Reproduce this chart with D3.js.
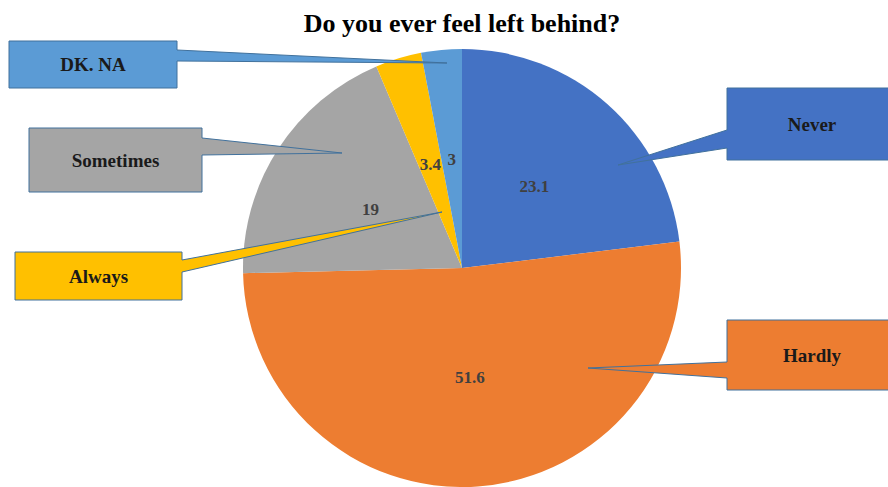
<!DOCTYPE html>
<html><head><meta charset="utf-8">
<script src="https://cdn.jsdelivr.net/npm/d3@7"></script>
<style>html,body{margin:0;padding:0;background:#fff;overflow:hidden}</style>
</head><body>
<svg id="chart" width="888" height="487"></svg>
<script>
const categories = ["Never", "Hardly", "Sometimes", "Always", "DK. NA"];
const values = [23.1, 51.6, 19, 3.4, 3];
const valueLabels = ["23.1", "51.6", "19", "3.4", "3"];
const colors = ["#4472c4", "#ed7d31", "#a5a5a5", "#ffc000", "#5b9bd5"];
const title = "Do you ever feel left behind?";

// callout layout: box [x0,y0,x1,y1], pointer base along an edge, tip offset from pie centre
const callouts = [
  {box:[727,88,897,160], side:"left", base:[130,148], tip:[156,-103]},
  {box:[727,320,897,390], side:"left", base:[362,378], tip:[126,100]},
  {box:[29,128,202,192], side:"right", base:[138,155], tip:[-120,-115]},
  {box:[15,252,182,300], side:"right", base:[260,272], tip:[-20,-56]},
  {box:[9,41,177,88], side:"right", base:[50,61], tip:[-15,-205]}
];

const svg = d3.select("#chart");
const cx = 462, cy = 268, R = 219;
const serif = "'Liberation Serif', 'Times New Roman', serif";

svg.append("text").attr("x", 462).attr("y", 32).attr("text-anchor", "middle")
  .attr("font-family", serif)
  .attr("font-weight", "bold").attr("font-size", 26).attr("fill", "#000").text(title);

const pie = d3.pie().sort(null).value(d => d);
const arcs = pie(values);
const arc = d3.arc().innerRadius(0).outerRadius(R);
const labelArc = d3.arc().innerRadius(109).outerRadius(109);

const g = svg.append("g").attr("transform", `translate(${cx},${cy})`);
g.selectAll("path.slice").data(arcs).join("path").attr("class", "slice")
  .attr("d", arc).attr("fill", (d, i) => colors[i]);

g.selectAll("text.val").data(arcs).join("text").attr("class", "val")
  .attr("transform", d => `translate(${labelArc.centroid(d)})`)
  .attr("text-anchor", "middle").attr("dy", "0.35em")
  .attr("font-family", serif)
  .attr("font-weight", "bold").attr("font-size", 17).attr("fill", "#404040")
  .text((d, i) => valueLabels[i]);

// callouts
callouts.forEach((c, i) => {
  const [x0, y0, x1, y1] = c.box;
  const tx = cx + c.tip[0], ty = cy + c.tip[1];
  let p;
  if (c.side === "left") {
    p = `M${x0},${y0} L${x1},${y0} L${x1},${y1} L${x0},${y1} L${x0},${c.base[1]} L${tx},${ty} L${x0},${c.base[0]} Z`;
  } else {
    p = `M${x0},${y0} L${x1},${y0} L${x1},${c.base[0]} L${tx},${ty} L${x1},${c.base[1]} L${x1},${y1} L${x0},${y1} Z`;
  }
  svg.append("path").attr("d", p).attr("fill", colors[i])
    .attr("stroke", "#41719c").attr("stroke-width", 1).attr("stroke-linejoin", "miter");
  svg.append("text").attr("x", (x0 + x1) / 2).attr("y", (y0 + y1) / 2)
    .attr("dy", "0.35em").attr("text-anchor", "middle")
    .attr("font-family", serif)
    .attr("font-weight", "bold").attr("font-size", 19).attr("fill", "#1a1a1a")
    .text(categories[i]);
});
</script>
</body></html>
